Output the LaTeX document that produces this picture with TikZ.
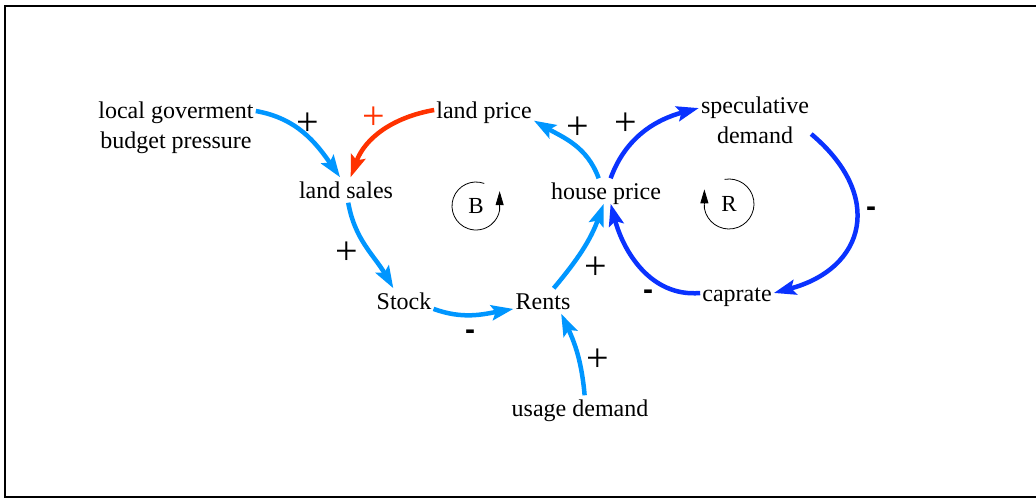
\documentclass[tikz,border=0pt]{standalone}
\usepackage{fontspec}
\setmainfont{Liberation Serif}
\newfontfamily\signfont{Liberation Sans}
\usepackage{xcolor}
\usetikzlibrary{arrows.meta}

\definecolor{lblue}{RGB}{0,150,255}
\definecolor{dblue}{RGB}{10,50,255}
\definecolor{lred}{RGB}{255,50,0}

\begin{document}
\begin{tikzpicture}[x=1pt,y=1pt,
  var/.style={font=\fontsize{24}{30}\selectfont, align=center, inner sep=2pt, text height=19pt, text depth=2pt},
  vartwo/.style={font=\fontsize{24}{30}\selectfont, align=center, inner sep=2pt},
  lnk/.style={line width=4.5pt, -{Stealth[length=22pt,width=15pt,inset=4pt]}},
  sgn/.style={font=\fontsize{40}{40}\selectfont, inner sep=0pt},
  neg/.style={font=\signfont\bfseries\fontsize{30}{30}\selectfont, inner sep=0pt},
  loopname/.style={font=\fontsize{23}{23}\selectfont, inner sep=0pt}]
\useasboundingbox (0,0) rectangle (1036,498);
\draw[line width=1.6pt] (1036,492) -- (5,492) -- (5,1) -- (1036,1);

% variables
\node[vartwo] (lgov) at (176,370) {local goverment\\budget pressure};
\node[var] (landsales) at (346,308) {land sales};
\node[var] (landprice) at (484,388) {land price};
\node[var] (houseprice) at (606,307) {house price};
\node[vartwo] (specdemand) at (755,378) {speculative\\demand};
\node[var] (stock) at (404,197) {Stock};
\node[var] (rents) at (543,197) {Rents};
\node[var] (caprate) at (737,205) {caprate};
\node[var] (usage) at (580,90) {usage demand};

% links
\draw[lnk,lblue] (lgov.12) to[out=-10,in=125] (landsales.115);
\draw[lnk,lred] (landprice.west) to[out=190,in=70] (landsales.70);
\draw[lnk,lblue] (landsales.-80) to[out=-80,in=120] (stock.130);
\draw[lnk,lblue] (stock.-15) to[out=-20,in=190] (rents.195);
\draw[lnk,lblue] (rents.50) to[out=50,in=-110] (houseprice.-100);
\draw[lnk,lblue] (usage.70) to[out=95,in=-65] (rents.-35);
\draw[lnk,lblue] (houseprice.120) to[out=110,in=-30] (landprice.-12);
\draw[lnk,dblue] (houseprice.70) to[out=70,in=195] (specdemand.168);
\draw[lnk,dblue] (specdemand.-14) to[out=-40,in=15,looseness=1.5] (caprate.east);
\draw[lnk,dblue] (caprate.west) to[out=185,in=-75] (houseprice.-70);

% polarities
\node[sgn] (s1) at (308,374) {+};
\node[sgn,text=lred] (s2) at (374,380) {+};
\node[sgn] (s3) at (347,245) {+};
\node[neg] (s4) at (470,163) {-};
\node[sgn] (s5) at (596,230) {+};
\node[sgn] (s6) at (598,138) {+};
\node[sgn] (s7) at (578,370) {+};
\node[sgn] (s8) at (626,374) {+};
\node[neg] (s9) at (871,286) {-};
\node[neg] (s10) at (648,203) {-};

% loop markers
\node[loopname] (loopB) at (476,292) {B};
\draw[line width=0.8pt] (loopB.center) ++(70:24) arc[start angle=70, end angle=350, radius=24]
  -- ++(0,4) coordinate (bEnd);
\draw[line width=0.8pt, -{Triangle[length=14pt,width=8pt]}] (bEnd) -- ++(0,15);
\node[loopname] (loopR) at (729,294) {R};
\draw[line width=0.8pt] (loopR.center) ++(100:25) arc[start angle=100, end angle=-170, radius=25]
  -- ++(0,4) coordinate (rEnd);
\draw[line width=0.8pt, -{Triangle[length=14pt,width=8pt]}] (rEnd) -- ++(0,15);
\end{tikzpicture}
\end{document}
